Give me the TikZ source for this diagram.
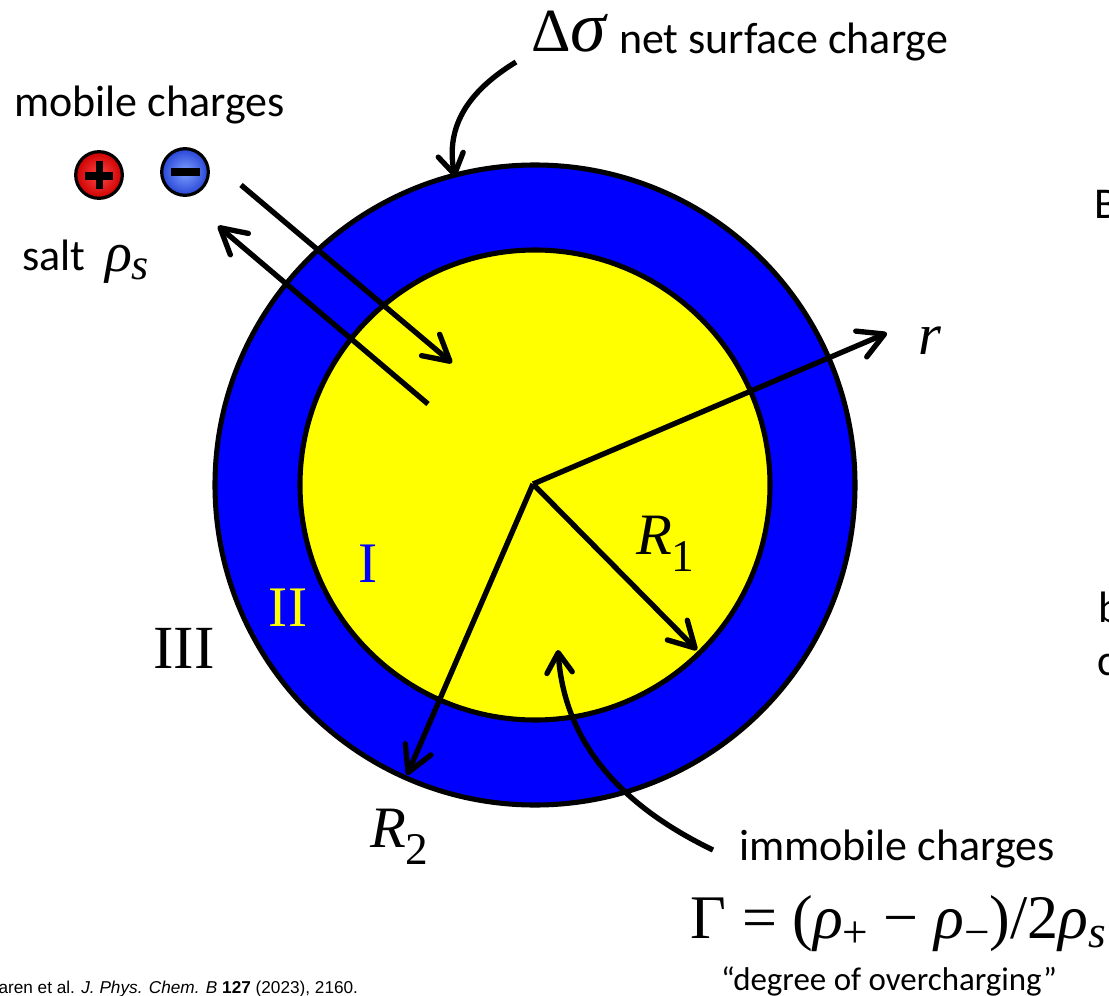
\documentclass[tikz,border=0pt]{standalone}
\usepackage{fontspec}
\usetikzlibrary{arrows.meta}
\setmainfont{Carlito}
\newfontfamily\serifm{Liberation Serif}
\newfontfamily\helv{Liberation Sans}
\newcommand{\fs}[1]{\fontsize{#1}{#1}\selectfont}
\definecolor{shellblue}{RGB}{0,0,255}
\definecolor{coreyellow}{RGB}{255,255,0}
\definecolor{ballredin}{RGB}{255,70,70}
\definecolor{ballredout}{RGB}{205,0,0}
\definecolor{ballbluein}{RGB}{125,160,255}
\definecolor{ballblueout}{RGB}{40,70,215}
\tikzset{
  lbl/.style={inner sep=0pt,outer sep=0pt,text=black},
  callout/.style={lbl,font=\fs{33}},
  region/.style={lbl,font=\serifm\fs{43}},
  mathlbl/.style={lbl,font=\serifm\itshape\fs{44}},
  ray/.style={line width=4pt,-{Straight Barb[length=19pt,width=21pt,line width=4pt,round]}},
  curvearrow/.style={line width=4pt,-{Straight Barb[length=15pt,width=19pt,line width=4pt,round]}},
  ring/.style={draw=black,line width=3.8pt},
  chargeball/.style={circle,draw=black,line width=2.4pt,minimum size=35pt,inner sep=0pt},
  sign/.style={fill=black,draw=none}
}
\begin{document}
\begin{tikzpicture}[x=0.75pt,y=-0.75pt]
\useasboundingbox (0,0) rectangle (1109,995);
\clip (0,0) rectangle (1109,995);
% spheres
\node[ring,circle,fill=shellblue,minimum size=480pt,inner sep=0pt] (shell) at (535,485) {};
\node[ring,circle,fill=coreyellow,minimum size=352.5pt,inner sep=0pt] (core) at (535,485) {};
% named points
\coordinate (c) at (533,484);
\coordinate (rtip) at (887,333);
\coordinate (r1tip) at (697,650);
\coordinate (r2tip) at (407,775);
\coordinate (inS) at (241,185);
\coordinate (inE) at (452,363);
\coordinate (outS) at (428,404);
\coordinate (outE) at (218,226);
\coordinate (sigS) at (516,62);
\coordinate (sigE) at (455,177);
\coordinate (immS) at (713,850);
\coordinate (immE) at (558,650);
% charges
\node[chargeball,shading=radial,inner color=ballredin,outer color=ballredout] (plus) at (99,175) {};
\node[chargeball,shading=radial,inner color=ballbluein,outer color=ballblueout] (minus) at (185,172) {};
\fill[sign] (85,171.5) rectangle (113,179.5);
\fill[sign] (95.5,161) rectangle (103,189);
\fill[sign] (171,168) rectangle (200,176);
% connectors
\draw[ray] (c) -- (rtip);
\draw[ray] (c) -- (r1tip);
\draw[ray] (c) -- (r2tip);
\draw[ray] (inS) -- (inE);
\draw[ray] (outS) -- (outE);
\draw[curvearrow] (sigS) .. controls (470,90) and (445,125) .. (sigE);
\draw[curvearrow] (immS) .. controls (630,810) and (565,750) .. (immE);
% text
\node[callout,anchor=base west] (mob) at (14,117) {mobile charges};
\node[callout,anchor=base west] (salt) at (22,270) {salt};
\node[lbl,anchor=base west,font=\serifm\itshape\fs{42}] (rhos) at (105,271) {ρ\raisebox{-0.15em}{\fs{33}s}};
\node[lbl,anchor=base west,font=\serifm\fs{46}] (delta) at (531,52) {Δ\textit{\fs{54}σ}};
\node[callout,anchor=base west] (net) at (619,54) {net surface charge};
\node[mathlbl,anchor=base west] (r) at (918,354) {r};
\node[mathlbl,anchor=base west] (R1) at (636,554) {R\raisebox{-0.3em}{\upshape\fs{34}1}};
\node[mathlbl,anchor=base west] (R2) at (370,847) {R\raisebox{-0.3em}{\upshape\fs{34}2}};
\node[region,text=shellblue,anchor=base] (I) at (368,582) {I};
\node[region,text=coreyellow,anchor=base] (II) at (288,626) {II};
\node[region,anchor=base,font=\serifm\fs{46}] (III) at (184,668) {III};
\node[callout,anchor=base west] (imm) at (739,860) {immobile charges};
\node[lbl,anchor=base east,font=\serifm\fs{46.5}] (gam) at (1106,938) {Γ = (\textit{ρ}\raisebox{-0.15em}{\fs{34}+} − \textit{ρ}\raisebox{-0.15em}{\fs{34}−})/2\textit{ρ}\raisebox{-0.15em}{\fs{34}\textit{s}}};
\node[lbl,anchor=base west,font=\fs{24.7}] (deg) at (721,990) {“degree of overcharging”};
\node[lbl,anchor=base east,font=\helv\fs{12.9}] (cite) at (358,993) {aren et al. \textit{J. Phys. Chem. B} \textbf{127} (2023), 2160.};
% cropped text at the right edge
\node[callout,anchor=base west] (edgeB) at (1094,218) {B};
\node[callout,anchor=base west] (edgeb) at (1098,622) {b};
\node[callout,anchor=base west] (edgec) at (1097,675) {c};
\end{tikzpicture}
\end{document}
